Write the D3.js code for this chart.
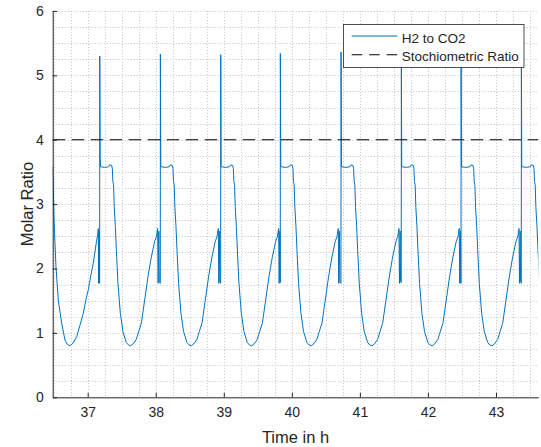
<!DOCTYPE html>
<html>
<head>
<meta charset="utf-8">
<script src="https://cdn.jsdelivr.net/npm/d3@7"></script>
<style>
  html, body { margin: 0; padding: 0; background: #fff; }
  svg { display: block; font-family: "Liberation Sans", Arial, Helvetica, sans-serif; }
</style>
</head>
<body>
<svg id="chart" width="541" height="447"></svg>
<script>
// ---- data ----
const xTicks = [37, 38, 39, 40, 41, 42, 43];
const yTicks = [0, 1, 2, 3, 4, 5, 6];
const xLabel = "Time in h";
const yLabel = "Molar Ratio";
const seriesNames = ["H2 to CO2", "Stochiometric Ratio"];
const stoichRatio = 4;

// leading part before the first visible spike (time h, ratio)
const leadTime  = [36.486, 36.493, 36.505, 36.519, 36.534, 36.568, 36.618, 36.666, 36.703, 36.740, 36.784,
                   36.838, 36.887, 36.935, 36.975, 37.009, 37.048, 37.082, 37.132, 37.147, 37.156, 37.161, 37.168, 37.173];
const leadRatio = [3.58, 3.30, 2.80, 2.40, 2.03, 1.51, 1.15, 0.89, 0.82, 0.80, 0.84,
                   0.94, 1.12, 1.30, 1.52, 1.67, 1.90, 2.08, 2.44, 2.52, 2.62, 1.77, 2.58, 1.80];

// spikes (time of each spike, peak value, value right after the spike)
const spikeTimes   = [37.176, 38.067, 38.954, 39.830, 40.722, 41.608, 42.486, 43.372];
const spikePeaks   = [5.30, 5.33, 5.32, 5.34, 5.36, 5.33, 5.33, 5.33];
const spikeBase    = [1.77, 1.77, 1.77, 1.78, 1.77, 1.78, 1.77, 1.77];
const landingRatio = [3.72, 3.58, 3.58, 3.58, 3.58, 3.58, 3.58, 3.58];

// course of one cycle after a spike (hours after spike, ratio)
const cyclePhase = [0.0132, 0.0735, 0.1323, 0.1470, 0.1763, 0.1866, 0.1940, 0.2043, 0.2145, 0.2307, 0.2454,
                    0.2689, 0.3042, 0.3424, 0.3924, 0.4262, 0.4555, 0.4923, 0.5393, 0.5731, 0.6128, 0.6613,
                    0.7098, 0.7597, 0.8082, 0.8347, 0.8523, 0.8597, 0.8699, 0.8758];
const cycleRatio = [3.58, 3.57, 3.58, 3.61, 3.60, 3.55, 3.35, 3.30, 2.95, 2.65, 2.29,
                    1.77, 1.30, 1.02, 0.85, 0.81, 0.80, 0.83, 0.90, 1.02, 1.15, 1.51,
                    1.87, 2.18, 2.42, 2.50, 2.62, 1.77, 2.58, 1.80];

// ---- assemble series ----
const series = leadTime.map((t, i) => ({ t, v: leadRatio[i] }));
spikeTimes.forEach((t0, k) => {
  series.push({ t: t0, v: spikeBase[k] });
  series.push({ t: t0 + 0.0015, v: spikePeaks[k] });
  series.push({ t: t0 + 0.0073, v: landingRatio[k] });
  cyclePhase.forEach((p, i) => series.push({ t: t0 + p, v: cycleRatio[i] }));
});

// ---- layout ----
const svg = d3.select("#chart");
const plot = { left: 52.7, right: 538.3, top: 10.9, bottom: 397.3 };
const x = d3.scaleLinear().domain([36.486, 43.622]).range([plot.left, plot.right]);
const y = d3.scaleLinear().domain([0, 6]).range([plot.bottom, plot.top]);

const axisColor = "#262626";
const gridColor = "#c4c4c4";

svg.append("defs").append("clipPath").attr("id", "clip")
  .append("rect").attr("x", plot.left).attr("y", plot.top - 2)
  .attr("width", plot.right - plot.left).attr("height", plot.bottom - plot.top + 2);

// grid (minor + major, dotted)
const gx = d3.range(36.5, 43.62, 0.25);
const gy = d3.range(0.25, 6.001, 0.25);
const grid = svg.append("g");
grid.selectAll("line.vx").data(gx).join("line")
  .attr("x1", d => Math.round(x(d)) + 0.5).attr("x2", d => Math.round(x(d)) + 0.5)
  .attr("y1", plot.top).attr("y2", plot.bottom)
  .attr("stroke", gridColor).attr("stroke-width", 1).attr("stroke-dasharray", "1,2");
grid.selectAll("line.hy").data(gy).join("line")
  .attr("y1", d => Math.round(y(d)) + 0.5).attr("y2", d => Math.round(y(d)) + 0.5)
  .attr("x1", plot.left).attr("x2", plot.right)
  .attr("stroke", gridColor).attr("stroke-width", 1).attr("stroke-dasharray", "1,2");

// data line
const line = d3.line().x(d => x(d.t)).y(d => y(d.v));
svg.append("path").datum(series)
  .attr("clip-path", "url(#clip)")
  .attr("fill", "none").attr("stroke", "#0072BD").attr("stroke-width", 1)
  .attr("stroke-linejoin", "miter").attr("d", line);

// stoichiometric line
svg.append("line")
  .attr("x1", x.range()[0]).attr("x2", x.range()[1])
  .attr("y1", y(stoichRatio)).attr("y2", y(stoichRatio))
  .attr("stroke", "#000").attr("stroke-width", 1.1).attr("stroke-dasharray", "12.5,6.5");

// axes
const fmt = d3.format("d");
const xAxis = d3.axisBottom(x).tickValues(xTicks).tickFormat(fmt).tickSizeInner(-4.5).tickSizeOuter(0).tickPadding(10);
const yAxis = d3.axisLeft(y).tickValues(yTicks).tickFormat(fmt).tickSizeInner(-4.5).tickSizeOuter(0).tickPadding(9);

const gX = svg.append("g").attr("transform", `translate(0,${plot.bottom})`).call(xAxis);
const gY = svg.append("g").attr("transform", `translate(${plot.left},0)`).call(yAxis);
[gX, gY].forEach(g => {
  g.select(".domain").attr("stroke", axisColor).attr("stroke-width", 1);
  g.selectAll(".tick line").attr("stroke", axisColor);
  g.selectAll(".tick text").attr("fill", axisColor)
    .style("font-size", "14px").style("font-family", '"Liberation Sans", Arial, sans-serif');
});

// axis labels
svg.append("text").attr("x", (plot.left + plot.right) / 2).attr("y", 442.5)
  .attr("text-anchor", "middle").attr("fill", axisColor).style("font-size", "16.5px")
  .text(xLabel);
svg.append("text").attr("transform", `translate(32.5,${(plot.top + plot.bottom) / 2}) rotate(-90)`)
  .attr("text-anchor", "middle").attr("fill", axisColor).style("font-size", "16.5px")
  .text(yLabel);

// legend
const lg = svg.append("g");
lg.append("rect").attr("x", 343.5).attr("y", 24.5).attr("width", 180.5).attr("height", 43)
  .attr("fill", "#fff").attr("stroke", axisColor).attr("stroke-width", 0.8);
lg.append("line").attr("x1", 351.7).attr("x2", 397.3).attr("y1", 36).attr("y2", 36)
  .attr("stroke", "#0072BD").attr("stroke-width", 1.1);
lg.append("line").attr("x1", 351.7).attr("x2", 397.3).attr("y1", 54.7).attr("y2", 54.7)
  .attr("stroke", "#000").attr("stroke-width", 1.1).attr("stroke-dasharray", "10.5,7");
lg.append("text").attr("x", 401.7).attr("y", 42.5).attr("fill", axisColor)
  .style("font-size", "13.5px").text(seriesNames[0]);
lg.append("text").attr("x", 401.7).attr("y", 60.6).attr("fill", axisColor)
  .style("font-size", "13.5px").text(seriesNames[1]);
</script>
</body>
</html>
